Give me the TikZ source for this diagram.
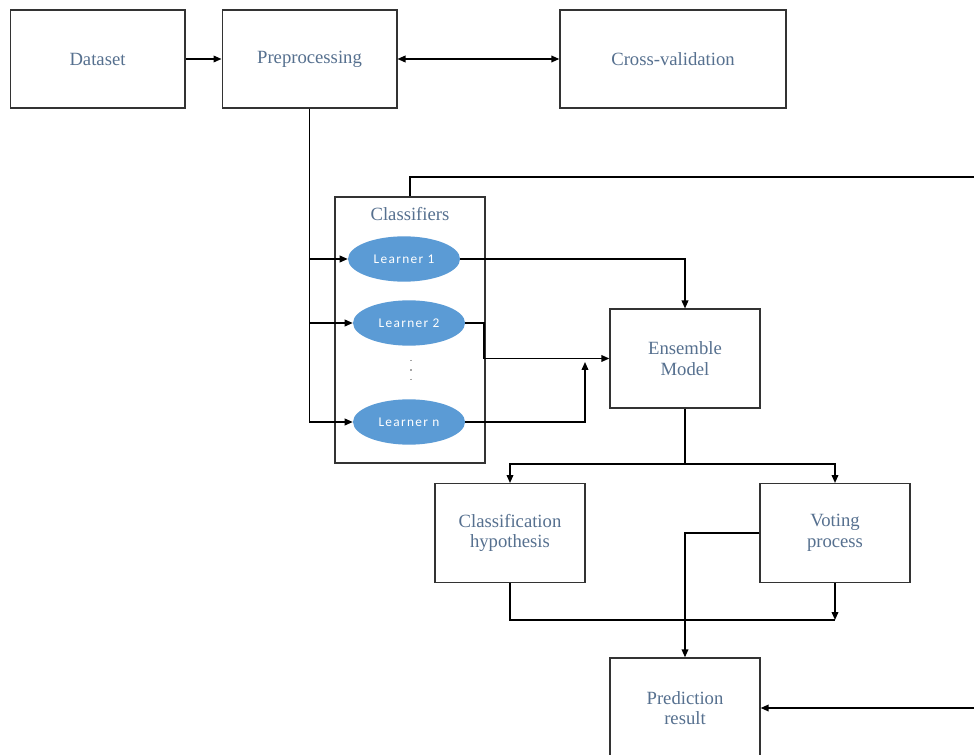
\documentclass[tikz,border=0pt]{standalone}
\usepackage{fontspec}
\setmainfont{Liberation Serif}
\newfontfamily\learnerfont[LetterSpace=10]{Carlito}
\usetikzlibrary{arrows.meta,shapes.geometric}
\definecolor{labelgray}{HTML}{56708F}
\definecolor{learnerblue}{HTML}{5B9BD5}

\begin{document}
\begin{tikzpicture}[
  x=0.75pt, y=-0.75pt,
  block/.style={rectangle, draw=black!80, line width=1pt, fill=white,
    text=labelgray, align=center, font=\fontsize{14}{15.5}\selectfont,
    inner sep=0pt},
  learner/.style={ellipse, fill=learnerblue, text=white, inner sep=0pt,
    minimum width=84pt, minimum height=34pt, font=\learnerfont\fontsize{10}{12}\selectfont},
  link/.style={line width=1.1pt, -{Triangle[length=6pt,width=5pt]}},
  plain/.style={line width=1.1pt}
]
  \useasboundingbox (0,0) rectangle (974,755);
  \clip (0,0) rectangle (974,755);

  \node[block, minimum width=131pt, minimum height=73.5pt] (data) at (97.5,59) {Dataset};
  \node[block, minimum width=131pt, minimum height=73.5pt] (prep) at (309.5,59) {Preprocessing};
  \node[block, minimum width=169.5pt, minimum height=73.5pt] (cv) at (673,59) {Cross-validation};

  \node[block, minimum width=112.5pt, minimum height=199.5pt] (cls) at (410,330) {};
  \node[text=labelgray, font=\fontsize{14}{16}\selectfont] (clstitle) at (410,214) {Classifiers};

  \node[learner] (l1) at (404,259) {Learner 1};
  \node[learner] (l2) at (409,323) {Learner 2};
  \node[learner] (ln) at (409,422) {Learner n};
  \draw[black!35, line width=1pt, dash pattern=on 1pt off 6pt] (411,360) -- (411,382);

  \node[block, minimum width=112.5pt, minimum height=74pt] (ens) at (685,358.5) {Ensemble\\Model};
  \node[block, minimum width=112.5pt, minimum height=74pt] (hyp) at (510,533) {Classification\\hypothesis};
  \node[block, minimum width=112.5pt, minimum height=74pt] (vote) at (835,533) {Voting\\process};
  \node[block, minimum width=112.5pt, minimum height=75pt] (pred) at (685,708) {Prediction\\result};

  \coordinate (split) at (685,464);
  \coordinate (merge) at (835,620);
  \coordinate (joinn) at (585,362);
  \coordinate (loop) at (990,177);

  \draw[link] (data) -- (prep);
  \draw[line width=1.1pt, {Triangle[length=6pt,width=5pt]}-{Triangle[length=6pt,width=5pt]}] (prep) -- (cv);

  \draw[link] (prep.south) |- (l1.west);
  \draw[link] (prep.south) |- (l2.west);
  \draw[link] (prep.south) |- (ln.west);

  \draw[link] (cls.north) |- (loop) |- (pred.east);

  \draw[link] (l1.east) -| (ens.north);
  \draw[link] (l2.east) -- (484,323) |- (ens.west);
  \draw[link] (ln.east) -| (joinn);

  \draw[plain] (ens.south) -- (split);
  \draw[link] (split) -| (hyp.north);
  \draw[link] (split) -| (vote.north);

  \draw[plain] (hyp.south) |- (merge);
  \draw[link] (vote.south) -- (merge);
  \draw[link] (vote.west) -| (pred.north);
\end{tikzpicture}
\end{document}
